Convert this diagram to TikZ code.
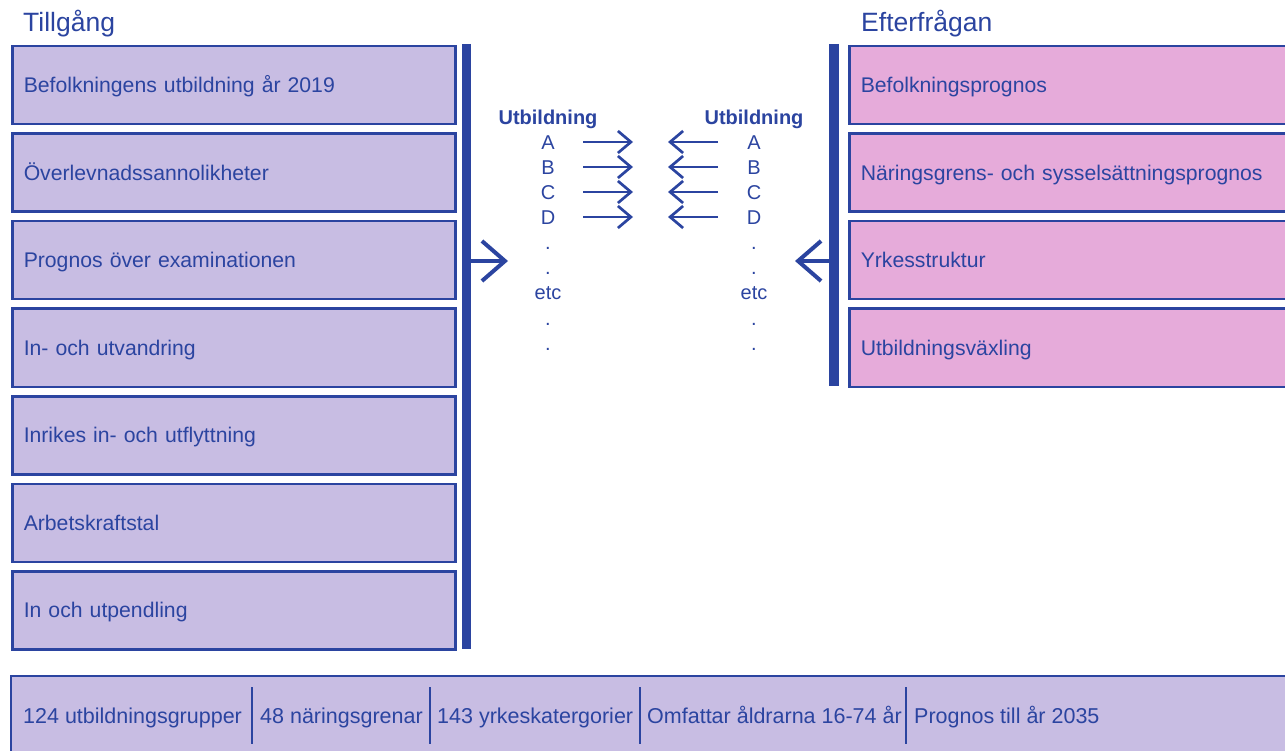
\documentclass[tikz,border=0pt]{standalone}
\usepackage{fontspec}
\setmainfont{Liberation Sans}
\usetikzlibrary{arrows.meta}
\definecolor{navy}{HTML}{2B44A0}
\definecolor{lav}{HTML}{C8BDE3}
\definecolor{rosa}{HTML}{E6ABDA}
\tikzset{
  tbox/.style={draw=navy, line width=2.5pt, fill=lav, anchor=north west, minimum height=78pt,
    text width=420pt, inner xsep=11.5pt, align=left, text=navy, text height=15pt, text depth=0pt,
    font=\fontsize{21.2}{24}\selectfont},
  ebox/.style={tbox, fill=rosa, text width=428pt},
  rubrik/.style={anchor=base west, inner sep=0pt, text=navy, font=\fontsize{26.5}{30}\selectfont},
  mitt/.style={anchor=base, inner sep=0pt, text=navy, font=\fontsize{20}{24}\selectfont},
  fot/.style={anchor=base west, inner sep=0pt, text=navy, font=\fontsize{21.5}{24}\selectfont},
  pil/.style={draw=navy, line width=2.7pt, -{Straight Barb[length=13pt, width=22pt]}},
  storpil/.style={draw=navy, line width=4pt, -{Straight Barb[length=23pt, width=40pt]}}
}
\begin{document}
\begin{tikzpicture}[x=1pt, y=-1pt]
   \useasboundingbox (0,0) rectangle (1285,751);

   % Tillgång
   \node[rubrik] (tgrubrik) at (23,32) {Tillgång};
   \foreach \t [count=\i] in {Befolkningens utbildning år 2019, Överlevnadssannolikheter,
      Prognos över examinationen, In- och utvandring, Inrikes in- och utflyttning,
      Arbetskraftstal, In och utpendling}
      \node[tbox] (tg\i) at (11,{45+87.5*(\i-1)}) {\t};
   \draw[navy, line width=9.5pt] (466.5,44) -- (466.5,649);
   \coordinate (tgbar) at (471,261);
   \coordinate (tgspets) at (508,261);
   \draw[storpil] (tgbar) -- (tgspets);

   % Efterfrågan
   \node[rubrik] (efrubrik) at (861,32) {Efterfrågan};
   \foreach \t [count=\i] in {Befolkningsprognos, Näringsgrens- och sysselsättningsprognos,
      Yrkesstruktur, Utbildningsväxling}
      \node[ebox] (ef\i) at (848,{45+87.5*(\i-1)}) {\t};
   \draw[navy, line width=10pt] (834,44) -- (834,386);
   \coordinate (efbar) at (829,261);
   \coordinate (efspets) at (795,261);
   \draw[storpil] (efbar) -- (efspets);

   % utbildningar i mitten
   \node[mitt, font=\fontsize{20}{24}\bfseries] (vhead) at (548,125) {Utbildning};
   \node[mitt, font=\fontsize{20}{24}\bfseries] (hhead) at (754,125) {Utbildning};
   \foreach \l [count=\i] in {A,B,C,D,.,.,etc,.,.}{
      \node[mitt] (v\i) at (548,{125+25*\i}) {\l};
      \node[mitt] (h\i) at (754,{125+25*\i}) {\l};
   }
   \foreach \i in {1,...,4}{
      \coordinate (va\i) at (583,{117+25*\i});
      \coordinate (vb\i) at (633,{117+25*\i});
      \coordinate (ha\i) at (718,{117+25*\i});
      \coordinate (hb\i) at (668,{117+25*\i});
      \draw[pil] (va\i) -- (vb\i);
      \draw[pil] (ha\i) -- (hb\i);
   }

   % fotrad
   \draw[navy, line width=2.5pt, fill=lav] (11,676) rectangle (1300,770);
   \foreach \x in {252,430,640,906}
      \draw[navy, line width=1.3pt] (\x,687) -- (\x,744);
   \node[fot] (f1) at (23,723) {124 utbildningsgrupper};
   \node[fot] (f2) at (260,723) {48 näringsgrenar};
   \node[fot] (f3) at (437,723) {143 yrkeskatergorier};
   \node[fot] (f4) at (647,723) {Omfattar åldrarna 16-74 år};
   \node[fot] (f5) at (914,723) {Prognos till år 2035};

\end{tikzpicture}
\end{document}
